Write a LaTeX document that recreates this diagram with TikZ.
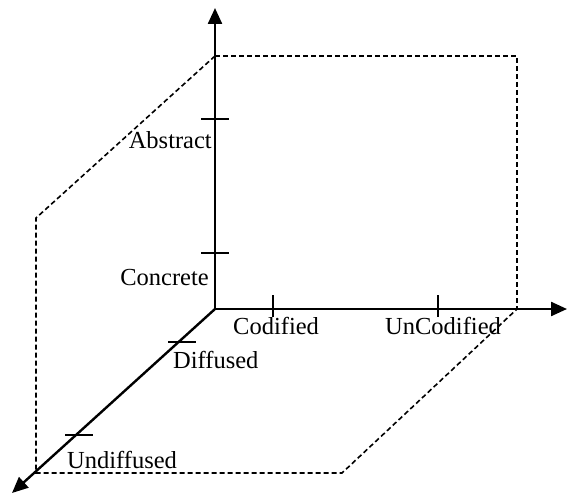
\documentclass[tikz,border=0pt]{standalone}
\usepackage{fontspec}
\setmainfont{Liberation Serif}
\usetikzlibrary{arrows.meta}
\begin{document}
\begin{tikzpicture}[x=1pt,y=-1pt,
  axis/.style={line width=2.4pt,-{Triangle[length=16pt,width=14pt]}},
  tickmark/.style={line width=2pt},
  frame/.style={line width=1.6pt,dash pattern=on 5pt off 3pt},
  lbl/.style={inner sep=0pt,font=\fontsize{24.5}{29}\selectfont}]
\useasboundingbox (0,0) rectangle (568,495);
% coordinates
\coordinate (O) at (215,309);
\coordinate (ytip) at (215,8);
\coordinate (xtip) at (567,309);
\coordinate (ztip) at (12,493);
\coordinate (A) at (215,56);
\coordinate (B) at (517,56);
\coordinate (C) at (517,309);
\coordinate (D) at (36,218);
\coordinate (E) at (36,473);
\coordinate (F) at (342,473);
% dashed frame
\draw[frame] (A) -- (B) -- (C);
\draw[frame] (A) -- (D) -- (E) -- (F) -- (C);
% axes
\draw[axis] (O) -- (ytip);
\draw[axis] (O) -- (xtip);
\draw[axis] (O) -- (ztip);
% ticks
\draw[tickmark] (201,119) -- (229,119);
\draw[tickmark] (201,253) -- (229,253);
\draw[tickmark] (273,295) -- (273,317);
\draw[tickmark] (438,295) -- (438,317);
\draw[tickmark] (168,342) -- (196,342);
\draw[tickmark] (65,435) -- (93,435);
% labels
\node[lbl,anchor=base east] (abs) at (212,148) {Abstract};
\node[lbl,anchor=base east] (con) at (209,285) {Concrete};
\node[lbl,anchor=base west] (cod) at (233,334) {Codified};
\node[lbl,anchor=base west] (unc) at (385,334) {UnCodified};
\node[lbl,anchor=base west] (dif) at (173,368) {Diffused};
\node[lbl,anchor=base west] (und) at (67,468) {Undiffused};
\end{tikzpicture}
\end{document}
